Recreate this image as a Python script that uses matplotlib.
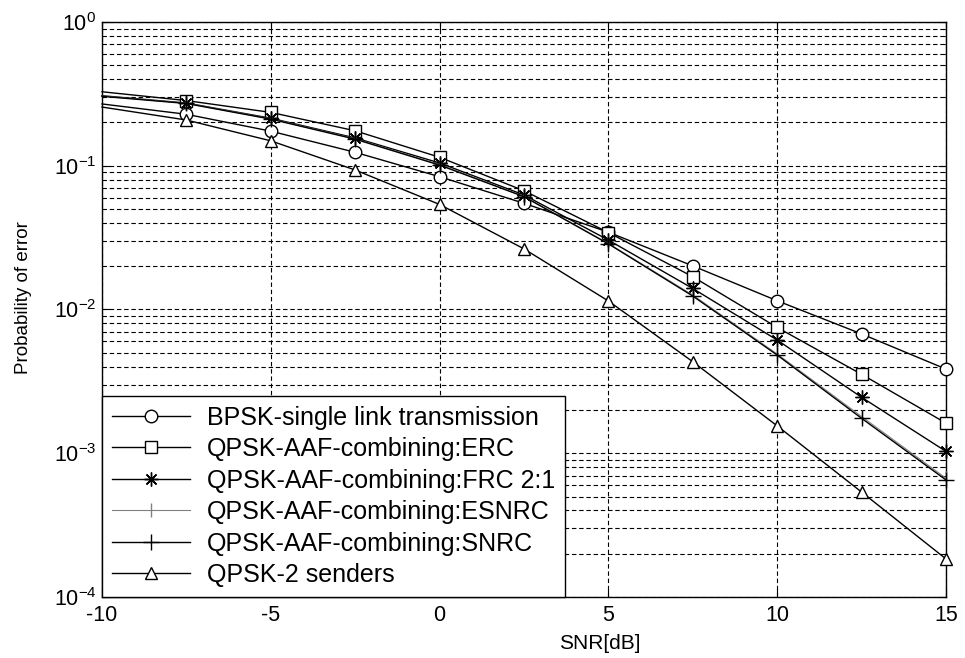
import numpy as np
import matplotlib
matplotlib.use("Agg")
import matplotlib.pyplot as plt
from matplotlib.ticker import LogLocator, NullFormatter

plt.rcParams['font.family'] = ['Liberation Sans', 'DejaVu Sans']
plt.rcParams['mathtext.fontset'] = 'custom'
plt.rcParams['mathtext.rm'] = 'Liberation Sans'
plt.rcParams['mathtext.it'] = 'Liberation Sans'
plt.rcParams['mathtext.default'] = 'regular'

snr = [-10, -7.5, -5, -2.5, 0, 2.5, 5, 7.5, 10, 12.5, 15]

bpsk_single = [0.269, 0.228, 0.174, 0.124, 0.0839, 0.0548, 0.0345, 0.0201, 0.0115, 0.00676, 0.00385]
qpsk_erc = [0.327, 0.284, 0.235, 0.175, 0.1145, 0.0670, 0.0343, 0.0169, 0.0075, 0.00354, 0.00162]
qpsk_frc = [0.307, 0.273, 0.214, 0.156, 0.1045, 0.0626, 0.0304, 0.0140, 0.00613, 0.00245, 0.00103]
qpsk_esnrc = [0.305, 0.272, 0.212, 0.154, 0.102, 0.0612, 0.0288, 0.0126, 0.00490, 0.00180, 0.00067]
qpsk_snrc = [0.304, 0.271, 0.211, 0.153, 0.101, 0.0609, 0.0286, 0.0124, 0.00482, 0.00175, 0.000652]
qpsk_2send = [0.256, 0.208, 0.149, 0.0934, 0.0538, 0.0264, 0.01146, 0.00433, 0.00155, 0.000537, 0.000184]

labels = ['BPSK-single link transmission', 'QPSK-AAF-combining:ERC',
          'QPSK-AAF-combining:FRC 2:1', 'QPSK-AAF-combining:ESNRC',
          'QPSK-AAF-combining:SNRC', 'QPSK-2 senders']

xticks = [-10, -5, 0, 5, 10, 15]
yticks = [1e-4, 1e-3, 1e-2, 1e-1, 1e0]
ytick_labels = ['$10^{-4}$', '$10^{-3}$', '$10^{-2}$', '$10^{-1}$', '$10^{0}$']

fig = plt.figure(figsize=(9.65, 6.58), dpi=100)
ax = fig.add_axes([0.1057, 0.0927, 0.8746, 0.8739])

# asterisk like matlab '*': plus and cross on top of each other
asterisk = (8, 2, 0)

series = [
    (bpsk_single, 'o', 'black', 1.0, 9),
    (qpsk_erc, 's', 'black', 1.0, 9),
    (qpsk_frc, asterisk, 'black', 1.0, 10),
    (qpsk_esnrc, '|', '#808080', 0.8, 10),
    (qpsk_snrc, '+', 'black', 1.0, 12),
    (qpsk_2send, '^', 'black', 1.0, 9),
]

for (vals, mk, col, lw, ms), lab in zip(series, labels):
    hollow = mk in ('o', 's', '^')
    ax.plot(snr, vals, color=col, lw=lw, marker=mk, markersize=ms,
            markerfacecolor='white' if hollow else col,
            markeredgecolor=col, markeredgewidth=1.0,
            markevery=list(range(1, len(snr))), label=lab, clip_on=False, zorder=3)

ax.set_yscale('log')
ax.set_xlim(-10, 15)
ax.set_ylim(1e-4, 1)
ax.set_xticks(xticks)
ax.set_xticklabels([str(t) for t in xticks])
ax.set_yticks(yticks)
ax.set_yticklabels(ytick_labels)
ax.yaxis.set_minor_locator(LogLocator(base=10, subs=np.arange(2, 10), numticks=20))
ax.yaxis.set_minor_formatter(NullFormatter())

ax.tick_params(axis='both', which='both', direction='in', top=True, right=True,
               labelsize=15.5, colors='black')
ax.tick_params(axis='x', which='major', pad=6)
ax.tick_params(axis='y', which='major', pad=4)
ax.tick_params(which='major', length=6)
ax.tick_params(which='minor', length=3)

dash = (0, (4, 2.5))
ax.grid(True, which='major', axis='x', color='black', lw=0.8, linestyle=dash)
ax.grid(True, which='both', axis='y', color='black', lw=0.8, linestyle=dash)
ax.set_axisbelow(True)

for s in ax.spines.values():
    s.set_linewidth(1.0)
    s.set_color('black')

ax.set_xlabel('SNR[dB]', fontsize=15)
ax.xaxis.set_label_coords(0.59, -0.065)
ax.set_ylabel('Probability of error', fontsize=13.5)
ax.yaxis.set_label_coords(-0.083, 0.52)

leg = ax.legend(loc='lower left', bbox_to_anchor=(0, 0), borderaxespad=0,
                fontsize=18, handlelength=3.1, handletextpad=0.7,
                labelspacing=0.3, borderpad=0.4, fancybox=False,
                edgecolor='black', framealpha=1)
leg.get_frame().set_linewidth(1.0)
leg.set_zorder(5)

fig.savefig('out.png', dpi=100, facecolor='white')
